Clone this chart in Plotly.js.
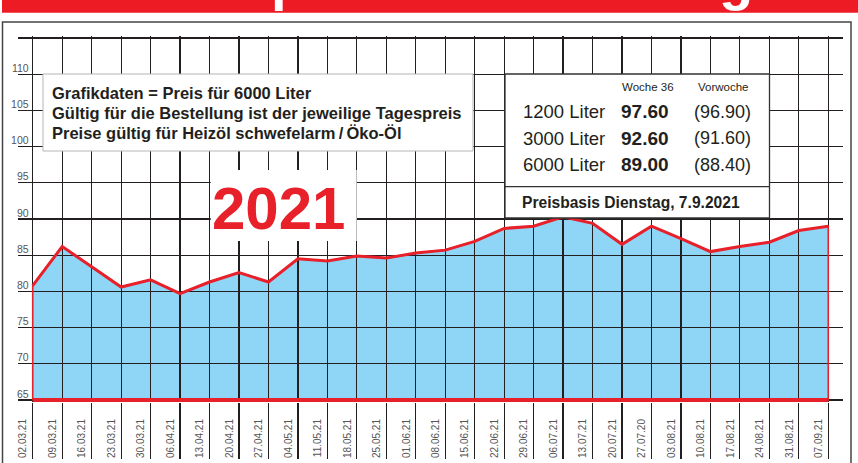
<!DOCTYPE html>
<html>
<head>
<meta charset="utf-8">
<script src="https://cdn.plot.ly/plotly-3.0.1.min.js"></script>
<style>
html,body{margin:0;padding:0;background:#fff;}
#chart{width:858px;height:463px;}
</style>
</head>
<body>
<div id="chart"></div>
<script>
// ---------- data ----------
const DATES = ["02.03.21","09.03.21","16.03.21","23.03.21","30.03.21","06.04.21","13.04.21",
  "20.04.21","27.04.21","04.05.21","11.05.21","18.05.21","25.05.21","01.06.21","08.06.21",
  "15.06.21","22.06.21","29.06.21","06.07.21","13.07.21","20.07.21","27.07.20","03.08.21",
  "10.08.21","17.08.21","24.08.21","31.08.21","07.09.21"];
const PRICES = [80.8, 86.2, 83.4, 80.6, 81.6, 79.7, 81.3,
  82.6, 81.3, 84.5, 84.2, 84.9, 84.6, 85.3, 85.7,
  86.9, 88.7, 89.0, 90.3, 89.4, 86.5, 89.0, 87.3,
  85.5, 86.2, 86.8, 88.4, 89.0];
const Y_TICKS = [65, 70, 75, 80, 85, 90, 95, 100, 105, 110];
const Y_MIN = 65, Y_MAX = 115, Y_STEP = 5;

const HEADLINE = "Heizölpreis-Entwicklung";
const YEAR_LABEL = "2021";
const INFO_LINES = [
  "Grafikdaten = Preis für 6000 Liter",
  "Gültig für die Bestellung ist der jeweilige Tagespreis",
  "Preise gültig für Heizöl schwefelarm\u2009/\u2009Öko-Öl"
];
const TABLE_HEAD = ["Woche 36", "Vorwoche"];
const QUANTITIES = ["1200 Liter", "3000 Liter", "6000 Liter"];
const PRICE_WEEK36 = ["97.60", "92.60", "89.00"];
const PRICE_PREV = ["(96.90)", "(91.60)", "(88.40)"];
const PRICE_BASIS = "Preisbasis Dienstag, 7.9.2021";

// ---------- styling ----------
const RED = "#e8202a";
const BLUE = "#8fd6f6";
const INK = "#231f20";
const GRID = "#231f20";
const SANS = "'Liberation Sans', Arial, sans-serif";
const NONE = "rgba(0,0,0,0)";

const W = 858, HGT = 463;
const M = {l: 18, r: 15, t: 36, b: 61, pad: 0};
const PW = W - M.l - M.r, PH = HGT - M.t - M.b;
const PX_PER_Y = (PH - 4) / (Y_MAX - Y_MIN);
const PAD = 2 / PX_PER_Y;                       // 2px room at both ends
const YR = [Y_MIN - PAD, Y_MAX + PAD];
const XR = [-0.5, DATES.length - 0.5];
const PX_PER_X = PW / DATES.length;
const XLAB_SHIFT = 9.5 / PX_PER_X;              // date labels sit left of their line
const YLAB_SHIFT = 6 / PX_PER_Y;                // value labels sit above their line
const IDX = DATES.map((d, i) => i);

const px2x = px => (px - M.l) / PW;
const py2y = py => (M.t + PH - py) / PH;

// ---------- traces ----------
const first = DATES[0], last = DATES[DATES.length - 1];
const polyX = [first, ...DATES, last];
const polyY = [Y_MIN, ...PRICES, Y_MIN];

const traces = [
  {type: "scatter", x: polyX, y: polyY, xaxis: "x", yaxis: "y", mode: "lines",
   fill: "toself", fillcolor: BLUE, line: {width: 0, color: BLUE}, hoverinfo: "skip"},
  // carriers for the label axes (draw nothing)
  {type: "scatter", x: IDX, y: PRICES, xaxis: "x3", yaxis: "y", mode: "none", hoverinfo: "skip"},
  {type: "scatter", x: DATES, y: PRICES, xaxis: "x", yaxis: "y3", mode: "none", hoverinfo: "skip"},
  // red outline above the grid
  {type: "scatter", x: [...polyX, first], y: [...polyY, Y_MIN], xaxis: "x2", yaxis: "y2",
   mode: "lines", line: {color: RED, width: 1.6}, hoverinfo: "skip"},
  {type: "scatter", x: DATES, y: PRICES, xaxis: "x2", yaxis: "y2",
   mode: "lines", line: {color: RED, width: 3}, hoverinfo: "skip"},
  {type: "scatter", x: [first, last], y: [Y_MIN, Y_MIN], xaxis: "x2", yaxis: "y2",
   mode: "lines", line: {color: RED, width: 4}, hoverinfo: "skip"}
];

// ---------- shapes ----------
function rect(x0, y0, x1, y1, fill, lineColor, lineWidth) {
  return {type: "rect", xref: "paper", yref: "paper", layer: "above",
    x0: px2x(x0), x1: px2x(x1), y0: py2y(y0), y1: py2y(y1),
    fillcolor: fill, line: {color: lineColor, width: lineWidth}};
}
const shapes = [
  rect(2, -2, 860, 12.7, "#ed1c24", NONE, 0),
  rect(2.5, 22, 851, 490, NONE, "#444", 1.5),
  rect(43, 74, 473, 151, "#ffffff", "#b5b5b5", 1),
  rect(210.7, 170, 356.7, 241, "#ffffff", NONE, 0),
  rect(505, 74, 769.5, 218, "#ffffff", "#333", 1.3),
  {type: "line", xref: "paper", yref: "paper", layer: "above",
   x0: px2x(505), x1: px2x(769.5), y0: py2y(186.7), y1: py2y(186.7),
   line: {color: "#333", width: 1.3}}
];

// ---------- annotations ----------
function ann(text, xpx, ypx, xanchor, font, extra) {
  return Object.assign({xref: "paper", yref: "paper", x: px2x(xpx), y: py2y(ypx),
    xanchor: xanchor, yanchor: "middle", showarrow: false, text: text, font: font}, extra || {});
}
const annotations = [
  ann("<b>" + HEADLINE + "</b>", 429, 13, "center",
      {family: SANS, size: 56, color: "#ffffff"}, {yanchor: "bottom"}),
  ann("<b>" + YEAR_LABEL + "</b>", 278.7, 208.3, "center", {family: SANS, size: 60, color: RED}),
  ann("<b>" + INFO_LINES[0] + "</b>", 50, 93.3, "left", {family: SANS, size: 16.5, color: INK}),
  ann("<b>" + INFO_LINES[1] + "</b>", 50, 113.3, "left", {family: SANS, size: 16.5, color: INK}),
  ann("<b>" + INFO_LINES[2] + "</b>", 50, 133.3, "left", {family: SANS, size: 16.5, color: INK}),
  ann(TABLE_HEAD[0], 648.3, 86.7, "center", {family: SANS, size: 11.5, color: INK}),
  ann(TABLE_HEAD[1], 723, 86.7, "center", {family: SANS, size: 11.5, color: INK}),
  ann("<b>" + PRICE_BASIS + "</b>", 630.9, 202.7, "center", {family: SANS, size: 15.6, color: INK})
];
const ROW_Y = [111.7, 138.3, 165];
QUANTITIES.forEach((q, i) => {
  annotations.push(ann(q, 520.7, ROW_Y[i], "left", {family: SANS, size: 18.5, color: INK}));
  annotations.push(ann("<b>" + PRICE_WEEK36[i] + "</b>", 670.5, ROW_Y[i], "right", {family: SANS, size: 19, color: INK}));
  annotations.push(ann(PRICE_PREV[i], 753.3, ROW_Y[i], "right", {family: SANS, size: 18, color: INK}));
});

// ---------- layout ----------
const layout = {
  width: W, height: HGT, margin: M,
  paper_bgcolor: "#ffffff", plot_bgcolor: NONE,
  showlegend: false, hovermode: false,
  // subplot 1: the blue area (below the grid)
  xaxis: {type: "category", categoryorder: "array", categoryarray: DATES, range: XR,
    domain: [0, 1], anchor: "y", showgrid: false, zeroline: false, showline: false,
    ticks: "", showticklabels: false},
  yaxis: {range: YR, domain: [0, 1], anchor: "x", showgrid: false, zeroline: false,
    showline: false, ticks: "", showticklabels: false},
  // subplot 2: grid + red outline (above the area)
  xaxis2: {type: "category", categoryorder: "array", categoryarray: DATES, range: XR,
    domain: [0, 1], anchor: "y2", showgrid: true, gridcolor: GRID, gridwidth: 1.2,
    zeroline: false, showline: false, ticks: "outside", ticklen: 56, tickwidth: 1.2,
    tickcolor: GRID, tickmode: "linear", tick0: 0, dtick: 1, showticklabels: false},
  yaxis2: {range: YR, domain: [0, 1], anchor: "x2", showgrid: true, gridcolor: GRID, gridwidth: 1.2,
    zeroline: false, showline: false, ticks: "", tickmode: "linear", tick0: Y_MIN, dtick: Y_STEP,
    showticklabels: false},
  // label axes
  xaxis3: {overlaying: "x", anchor: "y", side: "bottom",
    range: [XR[0] + XLAB_SHIFT, XR[1] + XLAB_SHIFT],
    showgrid: false, zeroline: false, showline: false,
    ticks: "outside", ticklen: 12, tickcolor: NONE,
    tickmode: "array", tickvals: IDX, ticktext: DATES, tickangle: -90,
    tickfont: {family: SANS, size: 10, color: "#555"}},
  yaxis3: {overlaying: "y", anchor: "free", position: 0.5 / DATES.length, side: "left",
    range: [YR[0] - YLAB_SHIFT, YR[1] - YLAB_SHIFT],
    showgrid: false, zeroline: false, showline: false,
    ticks: "outside", ticklen: 2, tickcolor: NONE,
    tickmode: "array", tickvals: Y_TICKS, ticktext: Y_TICKS.map(String),
    tickfont: {family: SANS, size: 10.5, color: "#555"}},
  shapes: shapes,
  annotations: annotations
};

Plotly.newPlot("chart", traces, layout, {staticPlot: true, displayModeBar: false});
</script>
</body>
</html>
